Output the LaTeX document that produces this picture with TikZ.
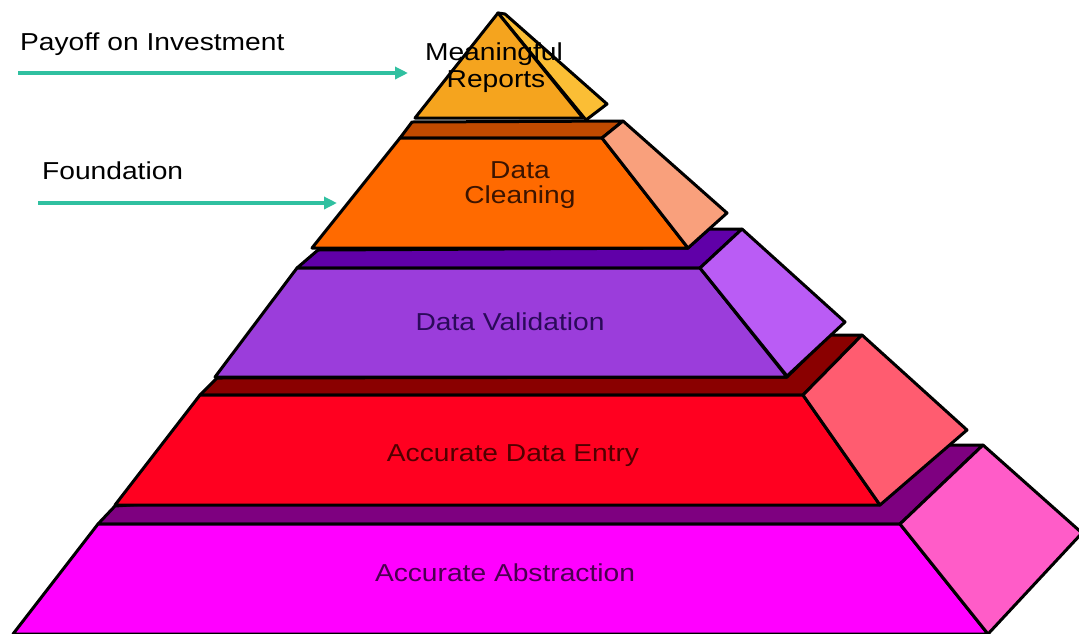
\documentclass[tikz,border=0pt]{standalone}
\usepackage{graphicx}
\usepackage{fontspec}
\setmainfont{Liberation Sans}
\usetikzlibrary{arrows.meta}

% face colours, tier by tier (front / top / side)
\definecolor{triFront}{HTML}{F5A41E}
\definecolor{triSide}{HTML}{FBBE35}
\definecolor{clnFront}{HTML}{FF6A00}
\definecolor{clnTop}{HTML}{C04A00}
\definecolor{clnSide}{HTML}{F9A07C}
\definecolor{valFront}{HTML}{9B3DDB}
\definecolor{valTop}{HTML}{6000A8}
\definecolor{valSide}{HTML}{BA5CF5}
\definecolor{entFront}{HTML}{FF0020}
\definecolor{entTop}{HTML}{8A0000}
\definecolor{entSide}{HTML}{FF5C70}
\definecolor{absFront}{HTML}{FF00FF}
\definecolor{absTop}{HTML}{7E0080}
\definecolor{absSide}{HTML}{FF5CC8}
\definecolor{pointerTeal}{HTML}{30C0A0}

\newcommand\widetext[1]{\scalebox{1.15}[1]{#1}}

\begin{document}
\begin{tikzpicture}[x=1pt,y=-1pt,
  face/.style={draw=black,line width=3pt,line join=round},
  lbl/.style={font=\fontsize{24.5}{28}\selectfont,inner sep=0pt,anchor=base},
  pointer/.style={draw=pointerTeal,line width=4.5pt,
    -{Triangle[length=13pt,width=12pt]}}]
\clip (0,0) rectangle (1079,633);
\fill[white] (0,0) rectangle (1079,633);

% bottom tier: Accurate Abstraction
\path[face,fill=absTop] (98,524) -- (115,506) -- (500,480) -- (940,445)
  -- (983,445) -- (900,524) -- cycle;
\path[face,fill=absFront] (13,634) -- (98,524) -- (900,524) -- (988,634) -- cycle;
\path[face,fill=absSide] (900,524) -- (983,445) -- (1082,533) -- (988,634) -- cycle;

% fourth tier: Accurate Data Entry
\path[face,fill=entTop] (200,395) -- (217,378) -- (787,377) -- (830,335)
  -- (862,335) -- (803,395) -- cycle;
\path[face,fill=entFront] (115,505) -- (200,395) -- (803,395) -- (880,505) -- cycle;
\path[face,fill=entSide] (803,395) -- (862,335) -- (967,430) -- (880,505) -- cycle;

% third tier: Data Validation
\path[face,fill=valTop] (297,268) -- (318,250) -- (688,248) -- (709,229)
  -- (742,229) -- (700,268) -- cycle;
\path[face,fill=valFront] (215,377) -- (297,268) -- (700,268) -- (787,377) -- cycle;
\path[face,fill=valSide] (700,268) -- (742,229) -- (845,322) -- (787,376) -- cycle;

% second tier: Data Cleaning
\path[face,fill=clnTop] (400,138) -- (412,122) -- (623,121) -- (602,138) -- cycle;
\path[face,fill=clnFront] (312,248) -- (400,138) -- (602,138) -- (688,248) -- cycle;
\path[face,fill=clnSide] (602,138) -- (623,121) -- (727,213) -- (688,248) -- cycle;

% apex: Meaningful Reports
\path[face,fill=triSide] (498,13) -- (505,14) -- (607,104) -- (586,120) -- cycle;
\path[face,fill=triFront] (415,118) -- (498,13) -- (583,118) -- cycle;

% tier labels
\node[lbl] (mean) at (494,60) {\widetext{Meaningful}};
\node[lbl] (rep) at (496,87) {\widetext{Reports}};
\node[lbl,text={rgb,255:red,60;green,20;blue,0}] (data) at (520,178) {\widetext{Data}};
\node[lbl,text={rgb,255:red,60;green,20;blue,0}] (clean) at (520,203) {\widetext{Cleaning}};
\node[lbl,text={rgb,255:red,43;green,10;blue,90}] (valid) at (510,330) {\widetext{Data Validation}};
\node[lbl,text={rgb,255:red,80;green,0;blue,0}] (entry) at (513,461) {\widetext{Accurate Data Entry}};
\node[lbl,text={rgb,255:red,75;green,0;blue,80}] (abstr) at (505,581) {\widetext{Accurate Abstraction}};

% side captions and pointers
\node[lbl,anchor=base west] (payoff) at (20,50) {\widetext{Payoff on Investment}};
\node[lbl,anchor=base west] (found) at (42,179) {\widetext{Foundation}};
\coordinate (payoffStart) at (18,73);
\coordinate (payoffEnd) at (408,73);
\coordinate (foundStart) at (38,203);
\coordinate (foundEnd) at (337,203);
\draw[pointer] (payoffStart) -- (payoffEnd);
\draw[pointer] (foundStart) -- (foundEnd);
\end{tikzpicture}
\end{document}
